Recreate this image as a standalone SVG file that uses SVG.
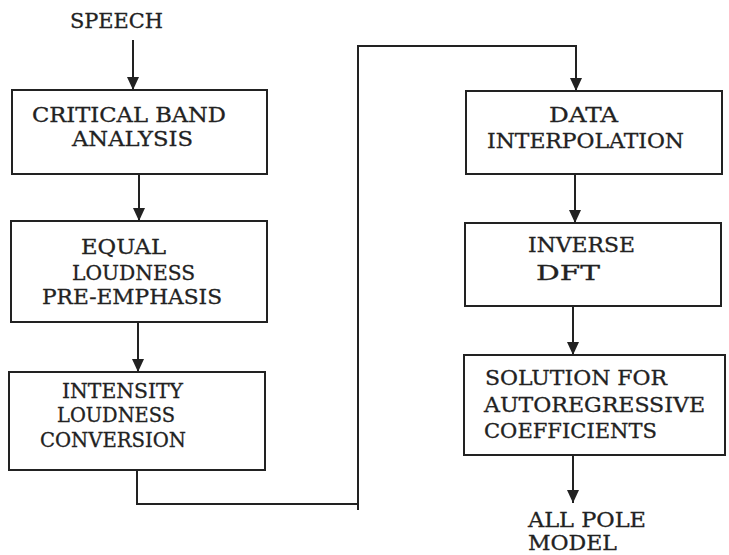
<svg xmlns="http://www.w3.org/2000/svg" width="729" height="555" viewBox="0 0 729 555">
<style>
.box{fill:#fff;stroke:#222;stroke-width:2}
.t{font-family:"DejaVu Serif","Liberation Serif",serif;font-size:20px;fill:#222;stroke:#222;stroke-width:0.3}
.c{fill:none;stroke:#222;stroke-width:2}
</style>
<defs>
<marker id="ah" markerUnits="userSpaceOnUse" markerWidth="14" markerHeight="12" refX="13" refY="6" orient="auto">
<path d="M0,0 L13,6 L0,12 z" fill="#222"/>
</marker>
</defs>
<rect width="729" height="555" fill="#fff"/>
<g id="connectors">
<line class="c" x1="133" y1="40" x2="133" y2="90" marker-end="url(#ah)"/>
<line class="c" x1="139" y1="174" x2="139" y2="221" marker-end="url(#ah)"/>
<line class="c" x1="138" y1="322" x2="138" y2="372" marker-end="url(#ah)"/>
<path class="c" d="M137,470 V504 H358 M358,510 V46 H576 V91" marker-end="url(#ah)"/>
<line class="c" x1="575" y1="174" x2="575" y2="223" marker-end="url(#ah)"/>
<line class="c" x1="573" y1="306" x2="573" y2="355" marker-end="url(#ah)"/>
<line class="c" x1="573" y1="455" x2="573" y2="503" marker-end="url(#ah)"/>
</g>
<g id="speech">
<text class="t" x="70" y="28" textLength="93" lengthAdjust="spacingAndGlyphs">SPEECH</text>
</g>
<g id="critical-band">
<rect class="box" x="12" y="90" width="255" height="84"/>
<text class="t" x="32" y="122" textLength="194" lengthAdjust="spacingAndGlyphs">CRITICAL BAND</text>
<text class="t" x="72" y="146" textLength="121" lengthAdjust="spacingAndGlyphs">ANALYSIS</text>
</g>
<g id="equal-loudness">
<rect class="box" x="11" y="221" width="256" height="101"/>
<text class="t" x="81" y="254" textLength="85" lengthAdjust="spacingAndGlyphs">EQUAL</text>
<text class="t" x="72" y="280" textLength="123" lengthAdjust="spacingAndGlyphs">LOUDNESS</text>
<text class="t" x="42" y="304" textLength="180" lengthAdjust="spacingAndGlyphs">PRE-EMPHASIS</text>
</g>
<g id="intensity-loudness">
<rect class="box" x="9" y="372" width="256" height="98"/>
<text class="t" x="62" y="398" textLength="121" lengthAdjust="spacingAndGlyphs">INTENSITY</text>
<text class="t" x="57" y="422" textLength="118" lengthAdjust="spacingAndGlyphs">LOUDNESS</text>
<text class="t" x="40" y="447" textLength="146" lengthAdjust="spacingAndGlyphs">CONVERSION</text>
</g>
<g id="data-interpolation">
<rect class="box" x="466" y="91" width="256" height="83"/>
<text class="t" x="549" y="122" textLength="69" lengthAdjust="spacingAndGlyphs">DATA</text>
<text class="t" x="487" y="148" textLength="197" lengthAdjust="spacingAndGlyphs">INTERPOLATION</text>
</g>
<g id="inverse-dft">
<rect class="box" x="465" y="223" width="256" height="83"/>
<text class="t" x="528" y="252" textLength="107" lengthAdjust="spacingAndGlyphs">INVERSE</text>
<text class="t" x="536" y="280" textLength="64" lengthAdjust="spacingAndGlyphs">DFT</text>
</g>
<g id="solution-ar">
<rect class="box" x="464" y="355" width="261" height="100"/>
<text class="t" x="485" y="385" textLength="182" lengthAdjust="spacingAndGlyphs">SOLUTION FOR</text>
<text class="t" x="484" y="412" textLength="221" lengthAdjust="spacingAndGlyphs">AUTOREGRESSIVE</text>
<text class="t" x="484" y="438" textLength="173" lengthAdjust="spacingAndGlyphs">COEFFICIENTS</text>
</g>
<g id="all-pole-model">
<text class="t" x="528" y="527" textLength="118" lengthAdjust="spacingAndGlyphs">ALL POLE</text>
<text class="t" x="528" y="550" textLength="89" lengthAdjust="spacingAndGlyphs">MODEL</text>
</g>
</svg>
